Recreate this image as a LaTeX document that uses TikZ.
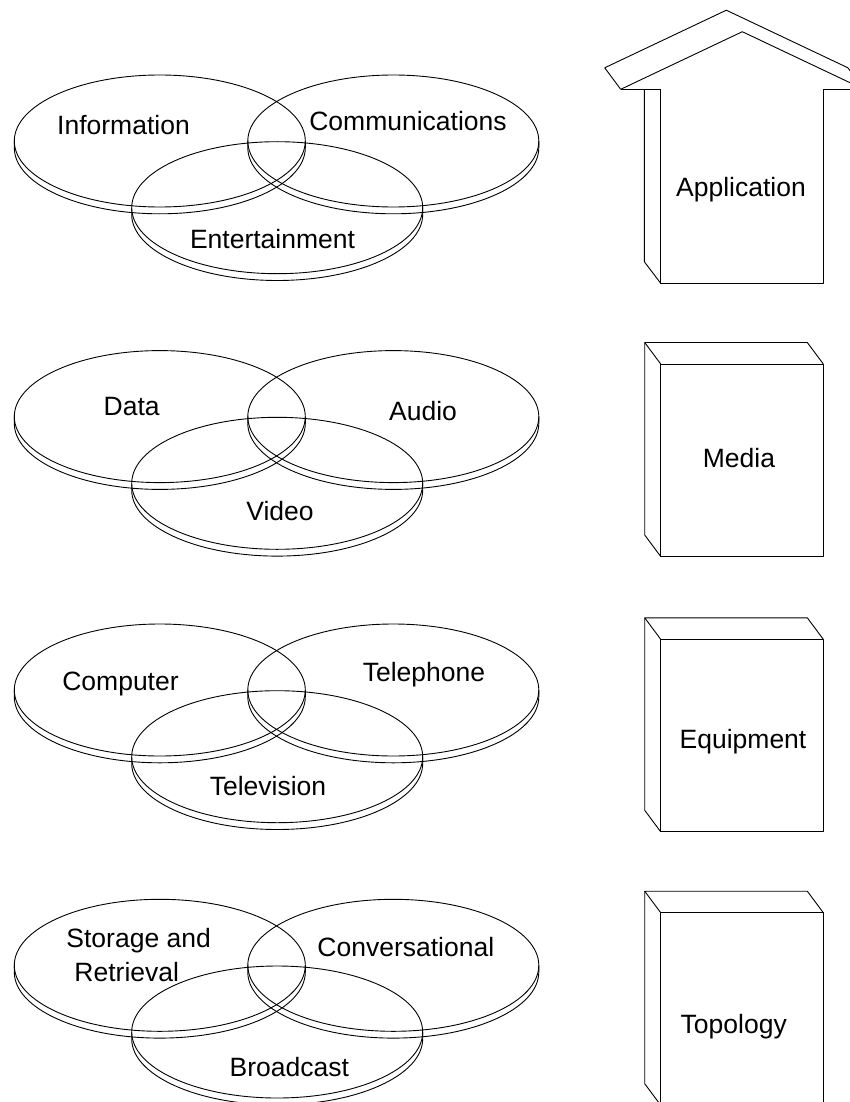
\documentclass[tikz,border=0pt]{standalone}
\usepackage{fontspec}
\setmainfont{Liberation Sans}
\begin{document}
\begin{tikzpicture}[x=1pt,y=1pt,line width=0.9pt,line join=round,
  lbl/.style={anchor=base,inner sep=0pt,font=\fontsize{26.5}{34}\selectfont},
  lbll/.style={anchor=base west,inner sep=0pt,font=\fontsize{26.5}{34}\selectfont},
  disc/.pic={
    % upper face and the visible lower rim of a thin disc
    \draw (0,0) ellipse [x radius=145.5, y radius=66];
    \draw (-145.5,0) -- (-145.5,-6.8)
          arc [start angle=180, end angle=360, x radius=145.5, y radius=66]
          -- (145.5,0);
  },
  cuboid/.pic={
    % front face 162.6 x 192.5, receding faces offset up-left
    \draw (0,0) rectangle (162.6,-192.5);
    \draw (0,0) -- (-16,21.5) -- (146.6,21.5) -- (162.6,0);
    \draw (-16,21.5) -- (-16,-171) -- (0,-192.5);
  }]
\useasboundingbox (0,0) rectangle (850,-1102);
\clip (0,0) rectangle (850,-1102);

% ---- Venn discs, four rows ----
\foreach \cy in {141,416.6,690,965.3}{
  \pic at (159.8,-\cy) {disc};
  \pic at (393.3,-\cy) {disc};
  \pic at (277.2,-\cy-66.7) {disc};
}

% row 1
\node[lbl] (info) at (123.5,-135) {Information};
\node[lbl] (comm) at (408,-130.7) {Communications};
\node[lbl] (ent)  at (272.5,-248) {Entertainment};
% row 2
\node[lbl] (data)  at (131.7,-415) {Data};
\node[lbl] (audio) at (423,-420) {Audio};
\node[lbl] (video) at (280,-520) {Video};
% row 3
\node[lbl] (comp) at (120.5,-690.7) {Computer};
\node[lbl] (tel)  at (424,-681.7) {Telephone};
\node[lbl] (tv)   at (268,-795) {Television};
% row 4
\node[lbll] (stor1) at (66,-947.3) {Storage and};
\node[lbll] (stor2) at (74,-981.7) {Retrieval};
\node[lbl] (conv)  at (405.8,-956.7) {Conversational};
\node[lbl] (broad) at (289.3,-1076) {Broadcast};

% ---- house for the application layer ----
% front wall and receding left wall
\draw (660.7,-89.3) -- (660.7,-283.3) -- (823.3,-283.3) -- (823.3,-89.3);
\draw (644.3,-89.3) -- (644.3,-261.7) -- (660.7,-283.3);
% eaves
\draw (620.7,-89.3) -- (660.7,-89.3);
\draw (823.3,-89.3) -- (863.9,-89.3);
% roof, front and back edges
\draw (620.7,-89.3) -- (742.3,-31.7) -- (863.9,-89.3);
\draw (604.7,-67.8) -- (726.3,-10.2) -- (847.9,-67.8);
\draw (604.7,-67.8) -- (620.7,-89.3);
\draw (847.9,-67.8) -- (863.9,-89.3);
\node[lbl] (app) at (741,-196.7) {Application};

% ---- boxes for the lower layers ----
\pic at (660.7,-364) {cuboid};
\pic at (660.7,-639.3) {cuboid};
\pic at (660.7,-912.7) {cuboid};
\node[lbl] (media) at (739,-467.7) {Media};
\node[lbl] (equip) at (743,-748.3) {Equipment};
\node[lbl] (topo)  at (733.7,-1033.3) {Topology};
\end{tikzpicture}
\end{document}
